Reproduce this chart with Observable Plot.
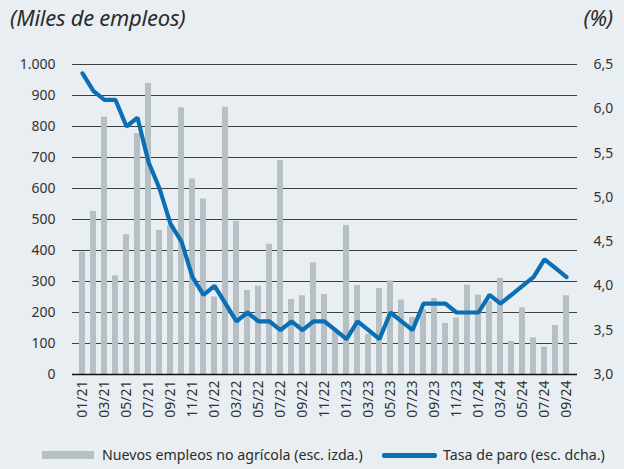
<!DOCTYPE html>
<html><head><meta charset="utf-8">
<script src="https://cdn.jsdelivr.net/npm/d3@7"></script>
<script src="https://cdn.jsdelivr.net/npm/@observablehq/plot@0.6"></script>
<style>
body{margin:0;background:#e9eef2;}
#wrap{width:624px;height:469px;position:relative;font-family:"Noto Sans",sans-serif;color:#333;background:#e9eef2;overflow:hidden;}
#title{height:40px;position:relative;}
.t{position:absolute;top:2px;font-style:italic;font-size:22px;letter-spacing:-0.25px;color:#2b2b2b;}
#legend{height:40px;position:relative;font-size:14.2px;color:#2b2b2b;}
.sw{position:absolute;}
.lt{position:absolute;top:16px;line-height:19px;}
svg{display:block;}
</style>
</head><body>
<div id="wrap">
  <div id="title"><span class="t" style="left:10px">(Miles de empleos)</span><span class="t" style="right:11px">(%)</span></div>
  <div id="chart"></div>
  <div id="legend">
    <div class="sw" style="left:42px;top:22px;width:52px;height:8px;background:#b6bfc3"></div>
    <div class="lt" style="left:102px">Nuevos empleos no agrícola (esc. izda.)</div>
    <div class="sw" style="left:382px;top:24px;width:55px;height:4.5px;border-radius:2px;background:#0b6fb6"></div>
    <div class="lt" style="left:443px">Tasa de paro (esc. dcha.)</div>
  </div>
</div>
<script>
const months = ["01/21","02/21","03/21","04/21","05/21","06/21","07/21","08/21","09/21","10/21","11/21","12/21",
"01/22","02/22","03/22","04/22","05/22","06/22","07/22","08/22","09/22","10/22","11/22","12/22",
"01/23","02/23","03/23","04/23","05/23","06/23","07/23","08/23","09/23","10/23","11/23","12/23",
"01/24","02/24","03/24","04/24","05/24","06/24","07/24","08/24","09/24"];
const jobs = [395,526,830,318,451,777,939,465,480,860,631,566,
250,862,494,271,285,420,691,242,254,360,258,140,
481,287,130,277,302,240,184,209,245,165,182,288,
256,236,310,107,215,118,88,158,254];
const rate = [6.4,6.2,6.1,6.1,5.8,5.9,5.4,5.1,4.7,4.5,4.1,3.9,
4.0,3.8,3.6,3.7,3.6,3.6,3.5,3.6,3.5,3.6,3.6,3.5,
3.4,3.6,3.5,3.4,3.7,3.6,3.5,3.8,3.8,3.8,3.7,3.7,
3.7,3.9,3.8,3.9,4.0,4.1,4.3,4.2,4.1];
const leftTicks = [0,100,200,300,400,500,600,700,800,900,1000];
const rightTicks = [3.0,3.5,4.0,4.5,5.0,5.5,6.0,6.5];
const xTickLabels = months.filter((d,i)=>i%2===0);

const rMin = 3.0, rMax = 6.5, yMax = 1000;
const toLeft = v => (v - rMin) / (rMax - rMin) * yMax;
const fromLeft = d => d / yMax * (rMax - rMin) + rMin;

const jobsData = months.map((m,i)=>({m, v: jobs[i]}));
const rateData = months.map((m,i)=>({m, r: rate[i]}));
const es = d3.formatLocale({decimal:",", thousands:".", grouping:[3]});
const fmtL = es.format(",");

const chart = Plot.plot({
  width: 624, height: 389,
  marginLeft: 72, marginRight: 47, marginTop: 24, marginBottom: 55,
  style: {background:"transparent", fontSize:"14px", fontFamily:"'Noto Sans', sans-serif", color:"#333"},
  x: {domain: months, padding: 0.42, label: null},
  y: {domain: [0, yMax], label: null},
  marks: [
    Plot.ruleY(leftTicks.filter(d=>d>0), {stroke:"#2a2a2a", strokeWidth:0.9}),
    Plot.barY(jobsData, {x:"m", y:"v", fill:"#b6bfc3"}),
    Plot.ruleY([0], {stroke:"#111", strokeWidth:1.6}),
    Plot.lineY(rateData, {x:"m", y: d=>toLeft(d.r), stroke:"#0b6fb6", strokeWidth:4.2, strokeLinejoin:"miter"}),
    Plot.axisY({anchor:"left", ticks: leftTicks, tickSize:0, tickPadding:17, tickFormat: fmtL, label:null}),
    Plot.axisY({anchor:"right", ticks: rightTicks.map(toLeft), tickSize:0, tickPadding:16,
      tickFormat: d => fromLeft(d).toFixed(1).replace(".", ","), label:null}),
    Plot.axisX({ticks: xTickLabels, tickRotate:-90, tickSize:0, tickPadding:6, label:null})
  ]
});
document.getElementById("chart").appendChild(chart);
</script>
</body></html>
